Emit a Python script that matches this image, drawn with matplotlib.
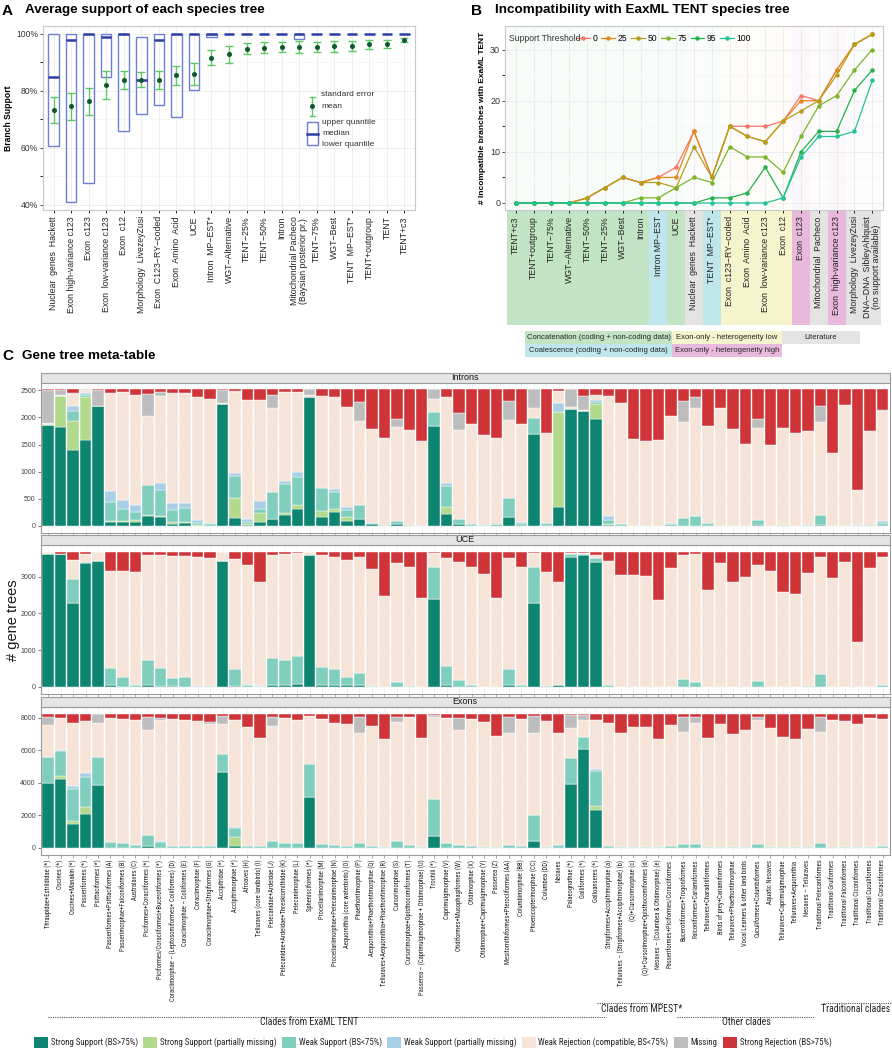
import matplotlib
matplotlib.use('Agg')
import matplotlib.pyplot as plt
import matplotlib.transforms as mtransforms
from matplotlib import font_manager
from matplotlib.patches import Rectangle
from matplotlib.lines import Line2D
import numpy as np

W, H = 892, 1050
plt.rcParams['font.family'] = ['Liberation Sans', 'DejaVu Sans']
MINUS = '\u2212'


def pick_font(names):
    for n in names:
        try:
            font_manager.findfont(font_manager.FontProperties(family=n), fallback_to_default=False)
            return n
        except ValueError:
            pass
    return 'Liberation Sans'


NARROW = [pick_font(['Liberation Sans Narrow', 'Roboto Condensed', 'Liberation Sans']), 'DejaVu Sans']

# ---------------- data: panel A ----------------
a_trees = ['Nuclear  genes  Hackett', 'Exon high-variance c123', 'Exon  c123',
           'Exon  low-variance c123', 'Exon  c12', 'Morphology  LivezeyZusi',
           'Exon  C123' + MINUS + 'RY' + MINUS + 'coded', 'Exon  Amino  Acid', 'UCE',
           'Intron  MP' + MINUS + 'EST*', 'WGT' + MINUS + 'Alternative', 'TENT' + MINUS + '25%',
           'TENT' + MINUS + '50%', 'Intron', 'Mitochondrial Pacheco\n(Baysian posterior pr.)',
           'TENT' + MINUS + '75%', 'WGT' + MINUS + 'Best', 'TENT  MP' + MINUS + 'EST*',
           'TENT+outgroup', 'TENT', 'TENT+c3']
a_mean = [73.2, 74.6, 76.5, 82.2, 83.9, 83.9, 84.0, 85.6, 86.0, 91.6, 92.9,
          94.9, 95.2, 95.3, 95.4, 95.6, 95.7, 95.8, 96.4, 96.6, 98.0]
a_se_hi = [77.7, 79.3, 81.2, 86.9, 86.9, 86.5, 87.1, 88.9, 89.7, 94.3, 95.9,
           96.7, 97.1, 97.1, 97.4, 97.1, 97.5, 97.5, 97.9, 97.9, 98.7]
a_se_lo = [68.7, 69.9, 71.6, 77.3, 80.8, 81.3, 80.8, 82.2, 82.0, 89.0, 89.9,
           93.0, 93.3, 93.6, 93.3, 93.8, 93.8, 94.0, 94.7, 95.0, 97.2]
a_upper = [100, 100, 100, 100, 100, 98.8, 100, 100, 100, 100, 100,
           100, 100, 100, 100, 100, 100, 100, 100, 100, 100]
a_median = [84.9, 97.9, 100, 98.9, 100, 83.9, 97.9, 100, 100, 100, 100,
            100, 100, 100, 100, 100, 100, 100, 100, 100, 100]
a_lower = [60.8, 40.9, 47.8, 84.9, 65.8, 71.8, 74.9, 70.9, 80.5, 98.9, 100,
           100, 100, 100, 98.4, 100, 100, 100, 100, 100, 100]

# ---------------- data: panel B ----------------
b_trees = ['TENT+c3', 'TENT+outgroup', 'TENT' + MINUS + '75%', 'WGT' + MINUS + 'Alternative',
           'TENT' + MINUS + '50%', 'TENT' + MINUS + '25%', 'WGT' + MINUS + 'Best', 'Intron',
           'Intron MP' + MINUS + 'EST', 'UCE', 'Nuclear  genes  Hackett', 'TENT  MP' + MINUS + 'EST*',
           'Exon  c123' + MINUS + 'RY' + MINUS + 'coded', 'Exon  Amino  Acid',
           'Exon  low-variance c123', 'Exon  c12', 'Exon  c123', 'Mitochondrial  Pacheco',
           'Exon  high-variance c123', 'Morphology  LivezeyZusi',
           'DNA' + MINUS + 'DNA  SibleyAhlquist\n(no support available)']
b_group = ['con', 'con', 'con', 'con', 'con', 'con', 'con', 'con', 'coal', 'con', 'lit',
           'coal', 'low', 'low', 'low', 'low', 'high', 'lit', 'high', 'lit', 'lit']
thresholds = ['0', '25', '50', '75', '95', '100']
b_t0 = [0, 0, 0, 0, 1, 3, 5, 4, 5, 7, 14, 5, 15, 15, 15, 16, 21, 20, 26, 31, 33]
b_t25 = [0, 0, 0, 0, 1, 3, 5, 4, 5, 5, 14, 5, 15, 13, 12, 16, 20, 20, 26, 31, 33]
b_t50 = [0, 0, 0, 0, 1, 3, 5, 4, 4, 3, 11, 5, 15, 13, 12, 16, 18, 20, 25, 31, 33]
b_t75 = [0, 0, 0, 0, 0, 0, 0, 1, 1, 3, 5, 4, 11, 9, 9, 6, 13, 19, 21, 26, 30]
b_t95 = [0, 0, 0, 0, 0, 0, 0, 0, 0, 0, 0, 1, 1, 2, 7, 1, 10, 14, 14, 22, 26]
b_t100 = [0, 0, 0, 0, 0, 0, 0, 0, 0, 0, 0, 0, 0, 0, 0, 1, 9, 13, 13, 14, 24]

# ---------------- data: panel C ----------------
clades = ['Thraupidae+Estrildidae (*)', 'Oscines (*)', 'Oscines+Manakin (*)', 'Passeriformes (*)',
          'Psittaciformes (*)', 'Passeriformes+Psittaciformes (A)', 'Passerimorphae+Falconiformes (B)',
          'Australaves (C)', 'Piciformes+Coraciiformes (*)',
          'Piciformes/Coraciiformes+Bucerotiformes (*)',
          'Coraciimorphae \u2013 (Leptosomiformes+ Coliiformes) (D)',
          'Coraciimorphae \u2013 Coliiformes (E)', 'Coraciimorphae (F)',
          'Coraciimorphae+Strigiformes (G)', 'Accipitridae (*)', 'Accipitrimorphae (*)',
          'Afroaves (H)', 'Telluraves (core landbirds) (I)', 'Pelecanidae+Ardeidae (J)',
          'Pelecanidae+Ardeidae+Threskiornithidae (K)', 'Pelecanimorphae (L)',
          'Sphenisciformes (*)', 'Procellariimorphae (M)', 'Procellariimorphae+Pelecanimorphae (N)',
          'Aequornithia (core waterbirds) (O)', 'Phaethontimorphae (P)',
          'Aequornithia+Phaethontimorphae (Q)', 'Telluraves+Aequornithia+Phaethontimorphae (R)',
          'Cursorimorphae (S)', 'Cursorimorphae+Opisthocomiformes (T)',
          'Passerea \u2013 (Caprimulgimorphae + Otidimorphae) (U)', 'Trochili (*)',
          'Caprimulgimorphae (V)', 'Otidiformes+Musophagiformes (W)', 'Otidimorphae (X)',
          'Otidimorphae+Caprimulgimorphae (Y)', 'Passerea (Z)',
          'Mesitornithiformes+Pterocliformes (AA)', 'Columbimorphae (BB)',
          'Phoenicopterimorphae (CC)', 'Columbea (DD)', 'Neoaves', 'Palaeognathae (*)',
          'Galliformes (*)', 'Galloanseres (*)', 'Strigiformes+Accipitrimorphae (a)',
          'Telluraves \u2013 (Strigiformes+Accipitrimorphae) (b)', '(Q)+Cursorimorphae (c)',
          '(Q)+Cursorimorphae+Opisthocomiformes (d)', 'Neoaves \u2013 (Columbea & Otidimorphae) (e)',
          'Passeriformes+Piciformes/Coraciiformes', 'Bucerotiformes+Trogoniformes',
          'Falconiformes+Cariamiformes', 'Telluraves+Charadriiformes', 'Birds of prey+Cariamiformes',
          'Telluraves+Phaethontimorphae', 'Vocal Learners & other land birds',
          'Cuculiformes+Columbiformes', 'Aquatic Neoaves', 'Telluraves+Caprimulgimorphae',
          'Telluraves+Aequornithia', 'Neoaves \u2013 Telluraves', 'Traditional Pelecaniformes',
          'Traditional Gruiformes', 'Traditional Falconiformes', 'Traditional Ciconiiformes',
          'Traditional Cuculiformes', 'Traditional Coraciiformes']

intron_total = 2516
intron_ss = [1860, 1830, 1390, 1575, 2200, 65, 65, 80, 185, 160, 40, 50, 5, 0, 2240, 140, 20,
             65, 120, 200, 310, 2370, 170, 250, 100, 130, 30, 0, 30, 0, 0, 1840, 220, 30,
             0, 0, 10, 160, 20, 1690, 10, 345, 2155, 2120, 1970, 10, 0, 0, 0, 0, 10,
             5, 0, 10, 0, 0, 0, 10, 0, 0, 0, 0, 10, 0, 0, 0, 0, 10]
intron_ssp = [0, 570, 540, 800, 0, 35, 25, 30, 10, 30, 25, 30, 15, 0, 0, 380, 20,
              180, 0, 30, 75, 0, 110, 60, 60, 0, 0, 0, 0, 0, 0, 0, 135, 0,
              0, 0, 20, 0, 0, 0, 0, 1760, 0, 0, 270, 20, 0, 0, 0, 0, 15,
              0, 0, 0, 0, 15, 0, 0, 0, 0, 0, 0, 0, 0, 15, 0, 0, 10]
intron_ws = [0, 0, 185, 40, 0, 345, 220, 155, 560, 470, 230, 245, 30, 45, 0, 400, 40,
             70, 510, 550, 520, 0, 410, 320, 135, 260, 20, 10, 60, 20, 0, 265, 385, 100,
             35, 10, 30, 350, 30, 295, 50, 0, 0, 0, 50, 80, 40, 0, 0, 0, 15,
             140, 185, 40, 0, 0, 0, 100, 0, 15, 0, 15, 200, 0, 0, 0, 15, 40]
intron_wsp = [0, 0, 85, 30, 0, 195, 165, 125, 0, 140, 120, 105, 60, 10, 0, 50, 40,
              150, 0, 45, 80, 0, 0, 50, 60, 0, 0, 0, 0, 0, 0, 0, 45, 0,
              0, 0, 0, 0, 30, 0, 0, 155, 0, 0, 30, 80, 0, 0, 0, 0, 15,
              0, 0, 0, 0, 0, 0, 0, 0, 0, 0, 0, 0, 0, 0, 20, 0, 40]
intron_miss = [610, 100, 15, 15, 290, 0, 0, 0, 410, 75, 0, 0, 0, 0, 250, 30, 0,
               0, 230, 0, 0, 100, 0, 0, 0, 350, 0, 0, 140, 0, 0, 170, 0, 300,
               0, 0, 0, 350, 0, 340, 0, 0, 320, 250, 0, 0, 0, 0, 0, 0, 0,
               375, 195, 0, 0, 0, 0, 165, 0, 0, 0, 0, 300, 0, 0, 0, 0, 15]
intron_sr = [15, 5, 75, 0, 10, 60, 50, 105, 85, 40, 60, 60, 147, 185, 10, 25, 195,
             195, 105, 55, 45, 0, 125, 150, 330, 230, 730, 900, 550, 750, 960, 0, 150, 440,
             640, 840, 900, 210, 640, 0, 810, 25, 0, 130, 105, 130, 260, 915, 945, 935, 500,
             220, 150, 675, 350, 735, 1015, 550, 1030, 710, 800, 760, 310, 1180, 295, 1855, 760, 380]

uce_total = 3679
uce_ss = [3630, 3610, 2270, 3370, 3430, 45, 0, 0, 45, 20, 10, 0, 0, 0, 3430, 25, 0,
          0, 45, 60, 70, 3600, 45, 40, 40, 55, 0, 0, 0, 0, 0, 2390, 45, 0,
          0, 0, 0, 45, 0, 2270, 30, 60, 3545, 3590, 3390, 0, 0, 0, 0, 0, 0,
          0, 0, 0, 0, 0, 0, 0, 0, 0, 0, 0, 0, 0, 0, 0, 0, 0]
uce_ssp = [0] * 68
uce_ws = [0, 0, 680, 40, 0, 475, 270, 60, 690, 500, 235, 270, 30, 20, 0, 450, 45,
          15, 735, 670, 770, 0, 500, 440, 215, 315, 30, 0, 120, 15, 0, 865, 530, 175,
          45, 0, 0, 430, 45, 980, 0, 0, 60, 20, 110, 45, 0, 0, 0, 0, 0,
          210, 135, 0, 0, 0, 0, 155, 0, 0, 0, 30, 340, 0, 0, 0, 0, 60]
uce_wsp = [0] * 68
uce_miss = [0] * 68
uce_sr = [20, 60, 225, 70, 10, 530, 530, 565, 90, 100, 110, 110, 135, 165, 0, 200, 365,
          820, 90, 65, 45, 0, 90, 155, 225, 155, 480, 1210, 320, 410, 1270, 45, 165, 275,
          410, 610, 1270, 180, 410, 45, 560, 815, 30, 40, 90, 245, 635, 635, 655, 1320, 430,
          90, 65, 1030, 320, 815, 700, 365, 520, 1090, 1165, 570, 135, 725, 275, 2455, 430, 155]

exon_total = 8251
exon_ss = [3980, 4220, 1470, 2100, 3880, 0, 0, 0, 100, 0, 0, 0, 0, 0, 4650, 150, 0,
           0, 0, 0, 0, 3120, 0, 0, 0, 0, 0, 0, 0, 0, 0, 750, 0, 0,
           0, 0, 0, 0, 0, 400, 0, 0, 3920, 6080, 2350, 0, 0, 0, 0, 0, 0,
           0, 0, 0, 0, 0, 0, 0, 0, 0, 0, 0, 0, 0, 0, 0, 0, 0]
exon_ssp = [0, 225, 185, 430, 0, 0, 0, 0, 0, 0, 0, 0, 0, 0, 0, 500, 0,
            0, 0, 0, 0, 0, 0, 0, 0, 0, 0, 0, 0, 0, 0, 0, 0, 0,
            0, 0, 0, 0, 0, 0, 0, 0, 0, 0, 245, 0, 0, 0, 0, 0, 0,
            0, 0, 0, 0, 0, 0, 0, 0, 0, 0, 0, 0, 0, 0, 0, 0, 0]
exon_ws = [1630, 1510, 2000, 1815, 1735, 350, 300, 200, 700, 350, 150, 100, 100, 100, 1120, 550, 100,
           100, 400, 300, 300, 2020, 250, 200, 100, 300, 100, 50, 450, 200, 50, 2270, 300, 200,
           100, 50, 50, 200, 100, 1600, 50, 200, 1630, 715, 2160, 150, 50, 50, 50, 50, 150,
           250, 250, 50, 50, 50, 50, 250, 50, 50, 50, 50, 300, 50, 50, 50, 50, 100]
exon_wsp = [0, 60, 160, 285, 0, 0, 0, 0, 0, 100, 0, 0, 0, 0, 0, 100, 0,
            0, 0, 0, 0, 0, 0, 0, 0, 0, 0, 0, 0, 0, 0, 0, 0, 0,
            0, 0, 0, 0, 0, 0, 0, 0, 0, 0, 80, 0, 0, 0, 0, 0, 0,
            0, 0, 0, 0, 0, 0, 0, 0, 0, 0, 0, 0, 0, 0, 0, 0, 0]
exon_miss = [510, 0, 0, 0, 530, 0, 0, 0, 815, 150, 0, 0, 0, 150, 470, 0, 0,
             0, 570, 0, 0, 0, 0, 0, 0, 960, 0, 0, 300, 0, 0, 100, 0, 775,
             0, 0, 0, 980, 0, 1000, 0, 0, 755, 300, 0, 0, 0, 0, 0, 0, 0,
             920, 370, 0, 0, 0, 0, 160, 0, 0, 0, 0, 920, 0, 0, 0, 0, 0]
exon_sr = [200, 265, 570, 470, 40, 245, 305, 370, 200, 245, 305, 410, 450, 510, 140, 370, 815,
           1470, 200, 245, 370, 140, 350, 570, 650, 200, 750, 1530, 200, 200, 1470, 100, 245, 245,
           305, 510, 1390, 200, 305, 160, 450, 1180, 100, 60, 370, 570, 1160, 815, 815, 1530, 710,
           200, 200, 1470, 650, 1220, 1020, 200, 860, 1430, 1530, 920, 200, 410, 470, 610, 245, 305]

c_labels = ['Strong Support (BS>75%)', 'Strong Support (partially missing)', 'Weak Support (BS<75%)',
            'Weak Support (partially missing)', 'Weak Rejection (compatible, BS<75%)', 'Missing',
            'Strong Rejection (BS>75%)']
c_colors = ['#0D8571', '#B2DA8C', '#80CFBE', '#A9CFE6', '#F6E4D9', '#BDBDBD', '#CF3538']

fig = plt.figure(figsize=(W / 100, H / 100), dpi=100)
renderer = fig.canvas.get_renderer()


def px_axes(x0, y0, x1, y1):
    return fig.add_axes([x0 / W, 1 - y1 / H, (x1 - x0) / W, (y1 - y0) / H])


def fx(x):
    return x / W


def fy(y):
    return 1 - y / H


def frame(ax, col='#9A9A9A'):
    for s in ax.spines.values():
        s.set_color(col)
        s.set_linewidth(0.8)


# ================= Panel A =================
fig.text(fx(2), fy(11), 'A', fontsize=11, fontweight='bold', va='center')
fig.text(fx(25), fy(10), 'Average support of each species tree', fontsize=9.7, fontweight='bold', va='center')
axA = px_axes(43, 26, 415, 210)
xa = np.arange(1, len(a_trees) + 1)
axA.set_xlim(0.4, 21.6)
axA.set_ylim(38.2, 102.8)
axA.set_yticks([40, 60, 80, 100])
axA.set_yticks([50, 70, 90], minor=True)
axA.set_yticklabels(['40%', '60%', '80%', '100%'])
axA.grid(True, which='major', color='#EBEBEB', lw=0.6)
axA.grid(True, which='minor', axis='y', color='#F4F4F4', lw=0.5)
axA.set_axisbelow(True)
for x, lo, med, up in zip(xa, a_lower, a_median, a_upper):
    if up - lo > 0.3:
        axA.add_patch(Rectangle((x - 0.3, lo), 0.6, up - lo, fill=False, ec='#6F7FD2', lw=1.0))
    axA.plot([x - 0.3, x + 0.3], [med, med], color='#2D3EA3', lw=1.8, solid_capstyle='butt')
a_mean_arr = np.array(a_mean)
axA.errorbar(xa, a_mean, yerr=[a_mean_arr - np.array(a_se_lo), np.array(a_se_hi) - a_mean_arr],
             fmt='o', ms=2.6, color='#0E5A2C', ecolor='#5BC864', elinewidth=1.0, capsize=2.6, capthick=1.0)
axA.set_xticks(xa)
axA.set_xticklabels(a_trees, rotation=90, fontsize=6.3, color='#222222', linespacing=0.95)
axA.tick_params(axis='y', labelsize=6.2, colors='#333333', length=2, width=0.6, pad=1.5)
axA.tick_params(axis='x', length=2.5, width=0.6, pad=2)
axA.set_ylabel('Branch Support', fontsize=6.2, fontweight='bold', labelpad=2)
frame(axA, '#C8C8C8')

# legend of panel A, drawn by hand
fig.add_artist(Line2D([fx(312), fx(312)], [fy(97), fy(116)], color='#5BC864', lw=1.0))
for yy in (97, 116):
    fig.add_artist(Line2D([fx(309.5), fx(314.5)], [fy(yy), fy(yy)], color='#5BC864', lw=1.0))
fig.add_artist(Line2D([fx(312)], [fy(106)], marker='o', ms=2.6, color='#0E5A2C', lw=0))
fig.text(fx(321), fy(95), 'standard error', fontsize=6, color='#333333', va='center')
fig.text(fx(321), fy(106), 'mean', fontsize=6, color='#333333', va='center')
fig.add_artist(Rectangle((fx(307), fy(145)), fx(11), 23 / H, fill=False, ec='#6F7FD2', lw=1.0,
                         transform=fig.transFigure))
fig.add_artist(Line2D([fx(307), fx(318)], [fy(133.5), fy(133.5)], color='#2D3EA3', lw=1.8))
fig.text(fx(322), fy(123), 'upper quantile', fontsize=6, color='#333333', va='center')
fig.text(fx(322), fy(133.5), 'median', fontsize=6, color='#333333', va='center')
fig.text(fx(322), fy(144), 'lower quantile', fontsize=6, color='#333333', va='center')

# ================= Panel B =================
fig.text(fx(471), fy(11), 'B', fontsize=11, fontweight='bold', va='center')
fig.text(fx(495), fy(10), 'Incompatibility with EaxML TENT species tree', fontsize=9.7,
         fontweight='bold', va='center')
axB = px_axes(505, 26, 883, 210)
xb = np.arange(1, len(b_trees) + 1)
axB.set_xlim(0.4, 21.6)
axB.set_ylim(-1.37, 34.6)
group_colors = {'con': '#C3E3C5', 'coal': '#BFE6EC', 'lit': '#E3E3E3', 'low': '#F6F4CC', 'high': '#E9B9DD'}
blend = mtransforms.blended_transform_factory(axB.transData, axB.transAxes)
for i, g in enumerate(b_group):
    left = max(i + 0.5, 0.4)
    right = min(i + 1.5, 21.6)
    axB.add_patch(Rectangle((left, -0.625), right - left, 0.625, transform=blend,
                            fc=group_colors[g], ec='none', clip_on=False, zorder=0))
    axB.add_patch(Rectangle((left, 0), right - left, 1, transform=blend,
                            fc=group_colors[g], ec='none', alpha=0.1, zorder=0))
axB.set_yticks([0, 10, 20, 30])
axB.set_yticks([5, 15, 25], minor=True)
axB.grid(True, which='major', color='#EBEBEB', lw=0.6)
axB.grid(True, which='minor', axis='y', color='#F4F4F4', lw=0.5)
axB.set_axisbelow(True)
b_colors = ['#F8766D', '#E38A1C', '#B59E1E', '#7DB52B', '#23B24A', '#22C39A']
for vals, col, lab in zip([b_t0, b_t25, b_t50, b_t75, b_t95, b_t100], b_colors, thresholds):
    axB.plot(xb, vals, color=col, marker='o', ms=2.2, lw=0.9, label=lab)
axB.set_xticks(xb)
axB.set_xticklabels(b_trees, rotation=90, fontsize=6.3, color='#222222', linespacing=0.95)
axB.tick_params(axis='y', labelsize=6.5, colors='#333333', length=2, width=0.6, pad=1.5)
axB.tick_params(axis='x', length=2.5, width=0.6, pad=2)
axB.set_ylabel('# Incompatible branches with ExaML TENT', fontsize=6, fontweight='bold', labelpad=3)
frame(axB, '#C8C8C8')
fig.text(fx(509), fy(38.5), 'Support Threshold', fontsize=6.2, color='#333333', va='center')
axB.legend(loc='center left', bbox_to_anchor=(fx(576), fy(38.5)), bbox_transform=fig.transFigure,
           ncol=6, frameon=False, fontsize=6.2, handlelength=1.6, handletextpad=0.3,
           columnspacing=0.45, borderpad=0, borderaxespad=0)

# category legend under panel B
cat_boxes = [(525, 331, 672, 344, 'con', 'Concatenation (coding + non-coding data)'),
             (672, 331, 782, 344, 'low', 'Exon-only - heterogeneity low'),
             (782, 331, 860, 344, 'lit', 'Literature'),
             (525, 344, 672, 357, 'coal', 'Coalescence (coding + non-coding data)'),
             (672, 344, 782, 357, 'high', 'Exon-only - heterogeneity high')]
for x0, y0, x1, y1, g, txt in cat_boxes:
    fig.add_artist(Rectangle((fx(x0), fy(y1)), (x1 - x0) / W, (y1 - y0) / H, fc=group_colors[g],
                             ec='none', transform=fig.transFigure))
    fig.text(fx((x0 + x1) / 2), fy((y0 + y1) / 2), txt, fontsize=5.5, ha='center', va='center',
             color='#222222')

# ================= Panel C =================
fig.text(fx(2), fy(356), 'C', fontsize=11, fontweight='bold', va='center')
fig.text(fx(22), fy(356), 'Gene tree meta-table', fontsize=9.7, fontweight='bold', va='center')

panels = [('Introns', intron_total, intron_ss, intron_ssp, intron_ws, intron_wsp, intron_miss, intron_sr,
           [0, 500, 1000, 1500, 2000, 2500], 373, 382.5, 532.8),
          ('UCE', uce_total, uce_ss, uce_ssp, uce_ws, uce_wsp, uce_miss, uce_sr,
           [0, 1000, 2000, 3000], 535, 545, 693.5),
          ('Exons', exon_total, exon_ss, exon_ssp, exon_ws, exon_wsp, exon_miss, exon_sr,
           [0, 2000, 4000, 6000, 8000], 697, 707, 854.7)]
xc = np.arange(1, len(clades) + 1)
for k, (name, total, ss, ssp, ws, wsp, miss, sr, ticks, s0, a0, a1) in enumerate(panels):
    ax = px_axes(40.7, a0, 890, a1)
    parts = [np.array(v, dtype=float) for v in (ss, ssp, ws, wsp, miss, sr)]
    weak_rej = np.clip(total - sum(parts), 0, None)
    stack = [parts[0], parts[1], parts[2], parts[3], weak_rej, parts[4], parts[5]]
    bottom = np.zeros(len(clades))
    for vals, col in zip(stack, c_colors):
        ax.bar(xc, vals, bottom=bottom, width=0.92, color=col, edgecolor='white', linewidth=0.3)
        bottom += vals
    ax.set_xlim(0.4, 68.6)
    ax.set_ylim(-0.05 * total, 1.05 * total)
    ax.set_yticks(ticks)
    ax.set_xticks(xc)
    ax.grid(True, color='#EEEEEE', lw=0.5)
    ax.set_axisbelow(True)
    ax.tick_params(axis='y', labelsize=5, colors='#444444', length=2, width=0.5, pad=1.5)
    ax.tick_params(axis='x', length=2, width=0.5, colors='#888888', pad=1.5)
    if k < 2:
        ax.set_xticklabels([])
    else:
        tls = ax.set_xticklabels(clades, rotation=90, fontsize=4.8, family=NARROW, color='#222222')
        # fit the longest clade name into the ~150 px the reference gives it
        longest = max(t.get_window_extent(renderer).height for t in tls)
        for t in tls:
            t.set_fontsize(4.8 * min(1.0, 150.0 / longest))
    frame(ax, '#9A9A9A')
    # facet strip
    fig.add_artist(Rectangle((fx(40.7), fy(a0)), (890 - 40.7) / W, (a0 - s0) / H, fc='#E5E5E5',
                             ec='#9A9A9A', lw=0.8, transform=fig.transFigure))
    fig.text(fx(465), fy((s0 + a0) / 2), name, fontsize=6.5, ha='center', va='center', color='#1A1A1A')

fig.text(fx(13), fy(620), '# gene trees', fontsize=10.5, rotation=90, ha='center', va='center',
         color='#1A1A1A')

# clade group annotations
groups = [(48, 606, 1016.5, 309, 1022, 'Clades from ExaML TENT'),
          (597, 663, 1003, 642, 1008.5, 'Clades from MPEST*'),
          (677, 814, 1016.5, 746, 1022, 'Other clades'),
          (823, 892, 1003, 856, 1008.5, 'Traditional clades')]
for x0, x1, ly, tx, ty, txt in groups:
    fig.add_artist(Line2D([fx(x0), fx(x1)], [fy(ly), fy(ly)], color='#555555', lw=0.8,
                          linestyle=(0, (1, 1))))
    fig.text(fx(tx), fy(ty), txt, fontsize=7, family=NARROW, ha='center', va='center', color='#222222')

# legend of panel C: squares and texts laid out to fill 34..890 px
leg_fs = 6.3
widths = []
for lab in c_labels:
    t = fig.text(0, 0, lab, fontsize=leg_fs, family=NARROW)
    widths.append(t.get_window_extent(renderer).width)
    t.remove()
avail = (890 - 34) - len(c_labels) * (14 + 3) - (len(c_labels) - 1) * 5
scale = min(1.0, avail / sum(widths))
leg_fs *= scale
x0 = 34
for lab, col, wd in zip(c_labels, c_colors, widths):
    fig.add_artist(Rectangle((fx(x0), fy(1048)), 14 / W, 11 / H, fc=col, ec='none',
                             transform=fig.transFigure))
    fig.text(fx(x0 + 17), fy(1042.5), lab, fontsize=leg_fs, family=NARROW, va='center', color='#222222')
    x0 += 17 + wd * scale + 5

fig.savefig('out.png', dpi=100)
